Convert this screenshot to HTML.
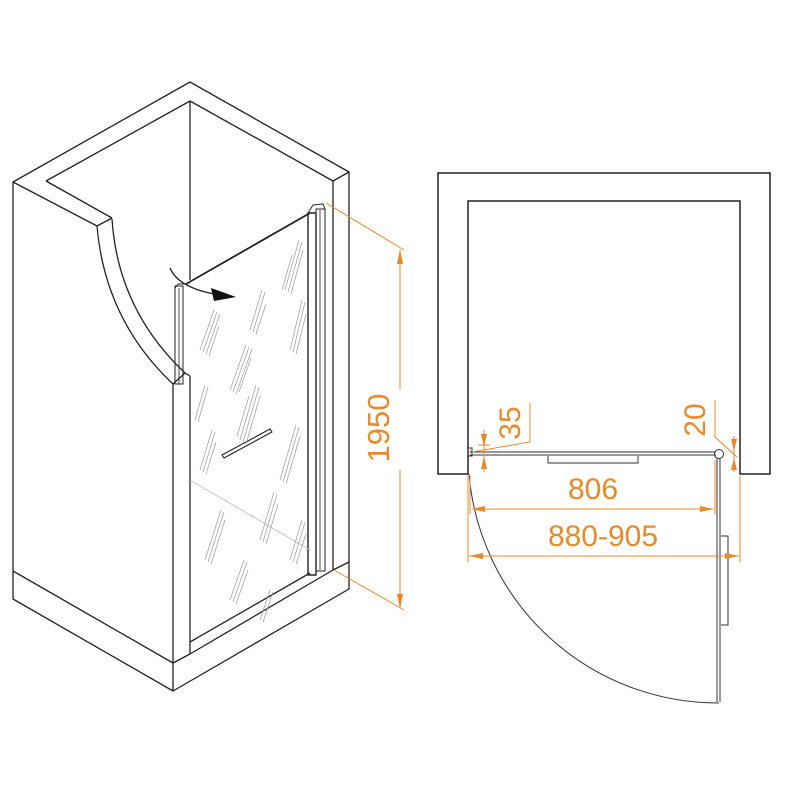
<!DOCTYPE html>
<html><head><meta charset="utf-8"><style>
html,body{margin:0;padding:0;background:#fff;width:800px;height:800px;overflow:hidden}
svg{display:block}
text{font-family:"Liberation Sans",sans-serif;fill:#e8892b}
</style></head><body>
<svg width="800" height="800" viewBox="0 0 800 800" xmlns="http://www.w3.org/2000/svg">
<g fill="none" stroke="#222" stroke-width="1.3" stroke-linejoin="round">
  <polyline points="13,572 13,182 190,82 349,172 349,589 173,691 13,599 13,572"/>
  <polyline points="13,182 97,226 112,218"/>
  <polyline points="46,181 190,101 333,181 349,172"/>
  <line x1="46" y1="181" x2="112" y2="218"/>
  <path d="M97,226 Q105,320 173,384"/>
  <path d="M112,219 Q118,310 185,373"/>
  <polyline points="173,384 185,373 190,376"/>
  <line x1="173" y1="384" x2="173" y2="663"/>
  <line x1="190" y1="376" x2="190" y2="654"/>
  <line x1="190" y1="101" x2="190" y2="280"/>
  <line x1="333" y1="181" x2="333" y2="570"/>
  <polyline points="13,571 173,663 173,691"/>
  <polyline points="173,663 190,654 333,570 349,562"/>
  <line x1="190" y1="642" x2="310" y2="573"/>
  <line x1="186" y1="284" x2="310" y2="213" stroke-width="1.8"/>
  <rect x="175" y="286" width="8" height="98" stroke-width="1"/>
  <line x1="179" y1="288" x2="179" y2="384" stroke-width="0.8"/>
  <path d="M175,288 L178,284 L184,284" stroke-width="1"/>
  <rect x="308" y="213" width="8" height="362" stroke-width="1.4"/>
  <rect x="316" y="209" width="9" height="362" stroke-width="1"/>
  <line x1="320" y1="210" x2="320" y2="570" stroke-width="0.8"/>
  <path d="M308,213 L313,205 L323,204 L325,209" stroke-width="1"/>
  <path d="M222,455 L270,429 L272,432 L224,458 Z" stroke-width="1.1"/>
  <path d="M170,268 Q178,287 214,294" stroke-width="1.4"/>
</g>
<polygon points="211,288 236,297 214,301" fill="#111"/>
<g stroke="#bbb" stroke-width="0.8">
  <line x1="190" y1="480" x2="310" y2="550"/>
</g>
<g stroke="#999" stroke-width="0.7">
  <path d="M200,350 l14,-40 M203,352 l14,-40 M206,354 l14,-40 M209,356 l10,-30"/>
  <path d="M230,390 l16,-45 M233,392 l16,-45 M236,394 l16,-45 M239,392 l12,-34"/>
  <path d="M285,290 l14,-50 M288,292 l14,-50 M291,294 l12,-44 M282,290 l10,-35"/>
  <path d="M290,350 l12,-50 M293,352 l12,-50 M296,354 l10,-40"/>
  <path d="M240,440 l16,-55 M243,442 l16,-55 M246,444 l14,-48 M237,436 l12,-40"/>
  <path d="M200,470 l12,-40 M203,472 l12,-40 M206,474 l10,-32"/>
  <path d="M280,480 l16,-55 M283,482 l16,-55 M286,484 l14,-48"/>
  <path d="M205,560 l16,-50 M208,562 l16,-50 M211,564 l14,-44"/>
  <path d="M260,540 l14,-48 M263,542 l14,-48 M266,544 l12,-40"/>
  <path d="M290,560 l12,-40 M293,562 l12,-40 M296,564 l10,-30"/>
  <path d="M230,600 l14,-40 M233,602 l14,-40 M236,604 l12,-34"/>
  <path d="M250,330 l12,-40 M253,332 l12,-40 M256,334 l10,-30"/>
  <path d="M260,620 l10,-30 M263,622 l10,-30"/>
  <path d="M195,420 l10,-35 M198,422 l10,-35"/>
</g>
<g stroke="#e8892b" stroke-width="1" fill="#e8892b">
  <line x1="326" y1="203" x2="404" y2="250"/>
  <line x1="334" y1="570" x2="404" y2="610"/>
  <line x1="400" y1="250" x2="400" y2="390"/>
  <line x1="400" y1="470" x2="400" y2="608"/>
  <polygon points="400,249 397,264 403,264" stroke="none"/>
  <polygon points="400,609 397,594 403,594" stroke="none"/>
</g>
<text x="0" y="0" font-size="31" text-anchor="middle" transform="translate(389,428) rotate(-90)">1950</text>

<g fill="none" stroke="#222" stroke-width="1.5">
  <path d="M438,474 L438,173 L770,173 L770,474 L740,474 L740,201 L468,201 L468,474 Z"/>
</g>
<g fill="none" stroke="#333" stroke-width="1">
  <line x1="470" y1="452" x2="716" y2="452"/>
  <line x1="470" y1="455" x2="716" y2="455"/>
  <rect x="468" y="448" width="4" height="8"/>
  <path d="M548,456 L548,463 L638,463 L638,456"/>
  <circle cx="719" cy="454" r="4.5"/>
  <line x1="717" y1="458" x2="717" y2="702"/>
  <line x1="720" y1="458" x2="720" y2="702"/>
  <path d="M721,536 L728,536 L728,625 L721,625"/>
  <path d="M469,474 A250,250 0 0 0 719,703"/>
</g>
<g stroke="#e8892b" stroke-width="1" fill="#e8892b">
  <line x1="470" y1="476" x2="470" y2="514"/>
  <line x1="715" y1="460" x2="715" y2="514"/>
  <line x1="472" y1="509" x2="713" y2="509"/>
  <polygon points="471,509 485,506 485,512" stroke="none"/>
  <polygon points="714,509 700,506 700,512" stroke="none"/>
  <line x1="468" y1="476" x2="468" y2="562"/>
  <line x1="740" y1="476" x2="740" y2="562"/>
  <line x1="469" y1="556" x2="739" y2="556"/>
  <polygon points="469,556 483,553 483,559" stroke="none"/>
  <polygon points="739,556 725,553 725,559" stroke="none"/>
  <polyline points="530,403 530,442 472,452" fill="none"/>
  <line x1="484" y1="430" x2="484" y2="472"/>
  <line x1="478" y1="445" x2="490" y2="445"/>
  <polygon points="484,447 481,434 487,434" stroke="none"/>
  <polygon points="484,456 481,469 487,469" stroke="none"/>
  <polyline points="715,400 715,437 737,457" fill="none"/>
  <line x1="734" y1="436" x2="734" y2="472"/>
  <polygon points="734,451 731,439 737,439" stroke="none"/>
  <polygon points="734,458 731,470 737,470" stroke="none"/>
</g>
<text x="593" y="499" font-size="30" text-anchor="middle">806</text>
<text x="603" y="546" font-size="30" text-anchor="middle">880-905</text>
<text font-size="30" text-anchor="middle" transform="translate(520,423) rotate(-90)">35</text>
<text font-size="30" text-anchor="middle" transform="translate(705,420) rotate(-90)">20</text>
</svg>
</body></html>
